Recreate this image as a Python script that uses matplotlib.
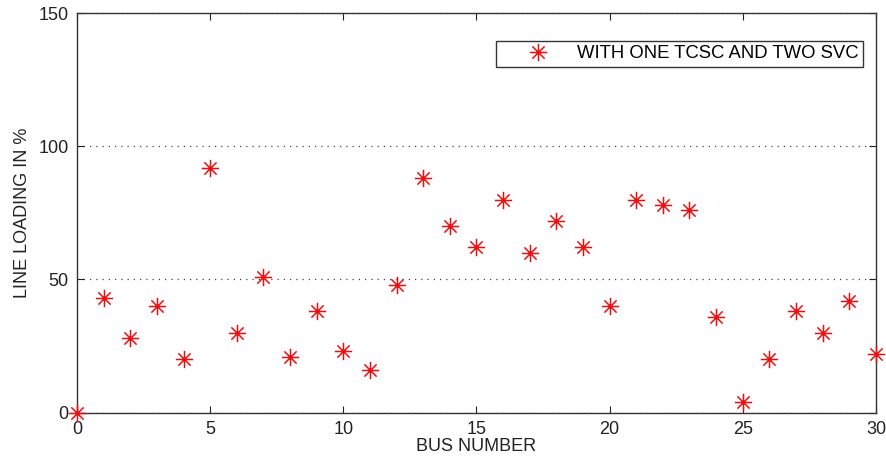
import matplotlib
matplotlib.use("Agg")
import matplotlib.pyplot as plt
from matplotlib.path import Path
import numpy as np

bus = list(range(0, 31))
loading = [0, 43, 28, 40, 20, 92, 30, 51, 21, 38, 23, 16, 48, 88, 70, 62,
           80, 60, 72, 62, 40, 80, 78, 76, 36, 4, 20, 38, 30, 42, 22]
series_label = "WITH ONE TCSC AND TWO SVC"
xticks = [0, 5, 10, 15, 20, 25, 30]
yticks = [0, 50, 100, 150]

plt.rcParams['font.family'] = ['Liberation Sans', 'DejaVu Sans']

# MATLAB-like asterisk marker (+ and x combined)
d = 0.7071
verts = [(-1, 0), (1, 0), (0, -1), (0, 1), (-d, -d), (d, d), (-d, d), (d, -d)]
codes = [Path.MOVETO, Path.LINETO] * 4
asterisk = Path(verts, codes)

fig = plt.figure(figsize=(8.87, 4.61), dpi=100)
ax = fig.add_axes([0.0868, 0.1048, 0.9007, 0.8670])

ax.plot(bus, loading, linestyle='none', marker=asterisk, markersize=12.5,
        markeredgecolor='#e81010', markerfacecolor='none', markeredgewidth=1.1,
        label=series_label, clip_on=False, zorder=3)

ax.set_xlim(0, 30)
ax.set_ylim(0, 150)
ax.set_xticks(xticks)
ax.set_yticks(yticks)
ax.tick_params(direction='in', top=True, right=True, length=5, width=0.8,
               labelsize=13, colors='#222222')
ax.tick_params(axis='x', pad=6)
ax.tick_params(axis='y', pad=6)
for s in ax.spines.values():
    s.set_linewidth(1.0)
    s.set_color('#333333')

ax.yaxis.grid(True, linestyle=(0, (1, 4)), color='#444444', linewidth=0.9)
ax.set_axisbelow(True)

ax.set_xlabel("BUS NUMBER", fontsize=13, color='#222222', labelpad=0)
ax.set_ylabel("LINE LOADING IN %", fontsize=13, color='#222222', labelpad=5)

leg = ax.legend(loc='upper right', bbox_to_anchor=(0.9837, 0.9307), fontsize=13.3,
                frameon=True, fancybox=False, borderpad=0.25, handletextpad=0.1,
                handlelength=4.0, borderaxespad=0)
leg.get_frame().set_edgecolor('black')
leg.get_frame().set_linewidth(1.0)

fig.savefig("out.png", dpi=100)
